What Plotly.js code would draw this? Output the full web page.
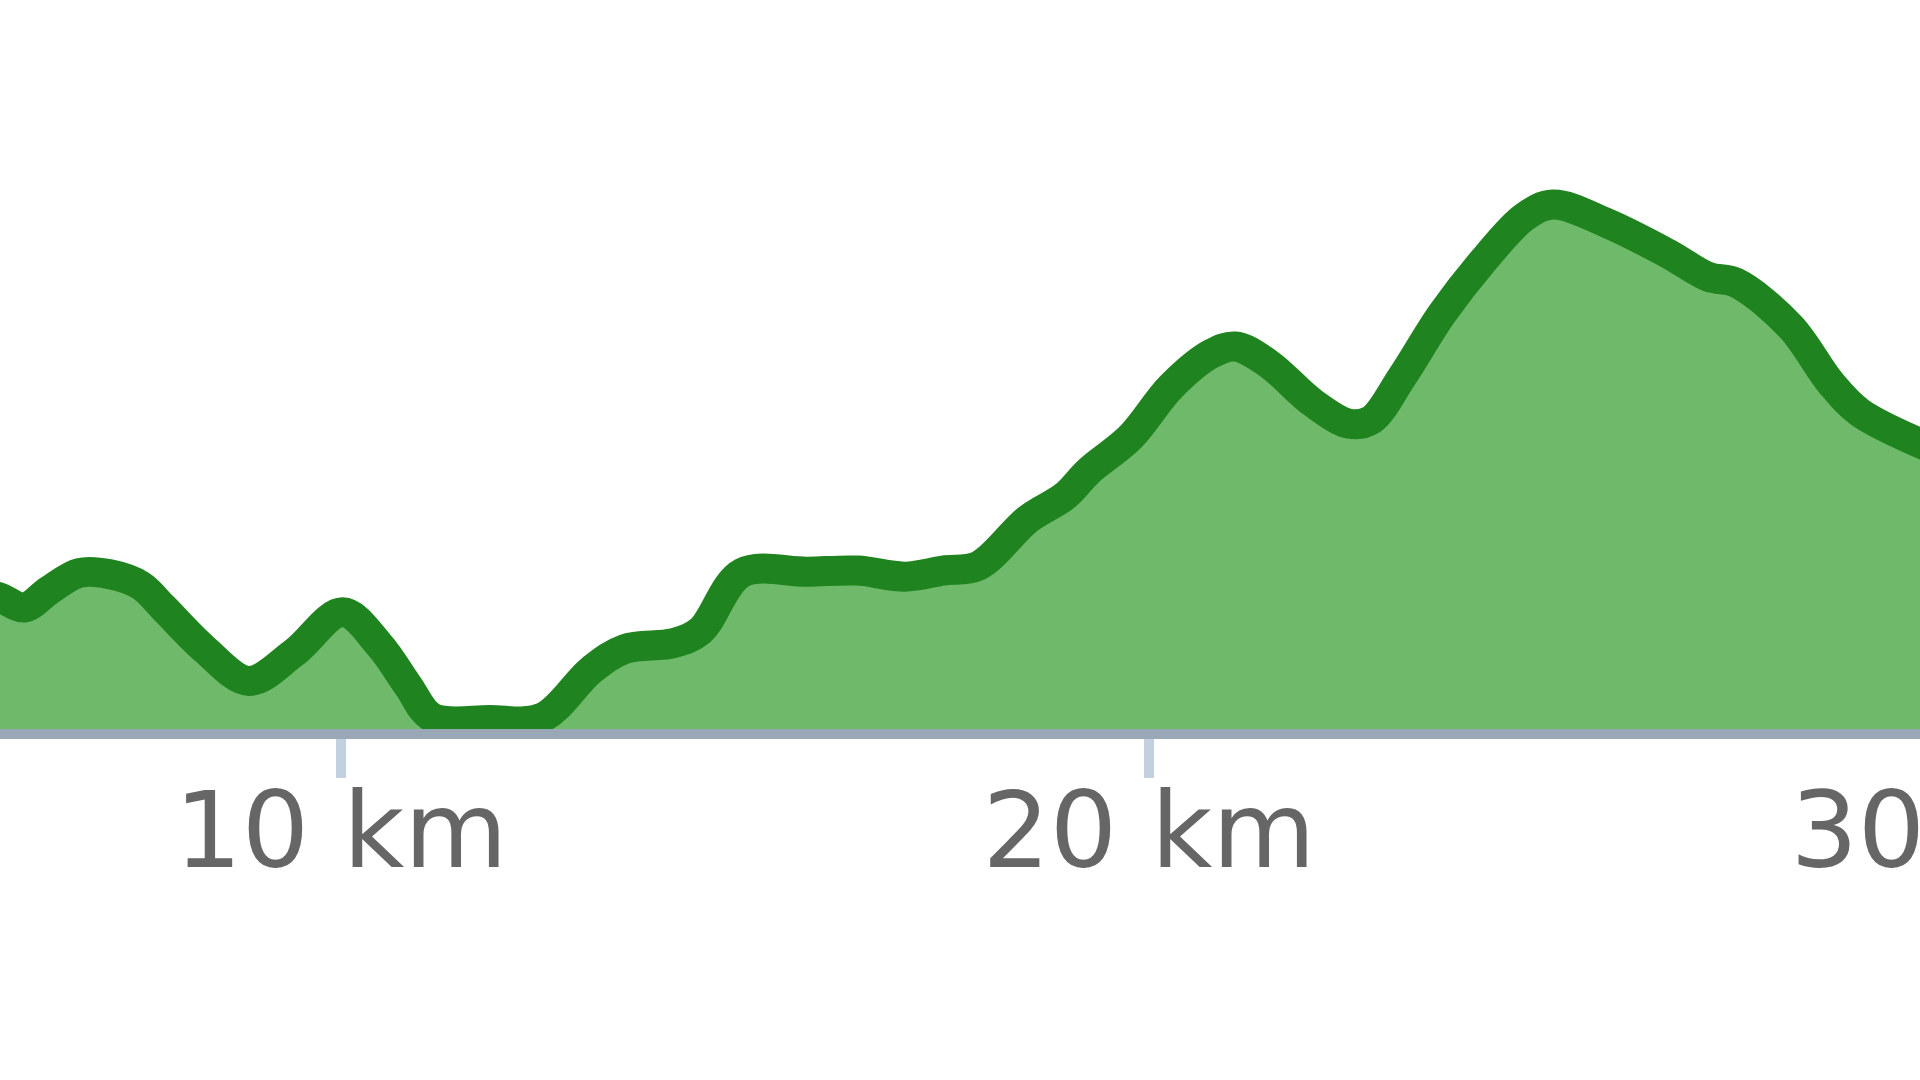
<!DOCTYPE html>
<html>
<head>
<meta charset="utf-8">
<script src="https://cdn.plot.ly/plotly-3.0.1.min.js"></script>
<style>
  html, body { margin: 0; padding: 0; width: 1920px; height: 1080px; overflow: hidden; background: #ffffff; }
  #chart { position: absolute; left: -200px; top: 0; width: 2400px; height: 1080px; }
</style>
</head>
<body>
<div id="chart"></div>
<script>
// Distance along the route (km)
const distanceKm = [5.70, 5.78, 6.08, 6.39, 6.76, 7.14, 7.52, 7.80, 8.31, 8.86, 9.42, 10.02,
  10.48, 10.83, 11.13, 11.84, 12.49, 13.10, 13.51, 14.12, 14.45, 14.96, 15.78, 16.39,
  16.98, 17.45, 17.89, 18.50, 18.96, 19.25, 19.77, 20.27, 20.77, 21.07, 21.48, 22.03,
  22.48, 22.75, 23.13, 23.63, 24.15, 24.65, 25.00, 25.66, 26.42, 26.92, 27.27, 27.94,
  28.44, 28.80, 29.54, 29.72];
// Elevation (relative, m)
const elevation = [54.6, 54.1, 50.0, 57.1, 64.2, 63.7, 59.1, 50.0, 32.9, 19.8, 31.4, 48.0,
  34.4, 17.8, 4.7, 3.7, 4.7, 24.4, 32.9, 35.4, 40.5, 64.2, 64.7, 65.2,
  62.7, 65.2, 67.2, 86.3, 95.9, 106.0, 120.1, 140.8, 154.4, 157.4, 150.3, 134.2,
  125.6, 127.2, 144.8, 171.0, 193.2, 210.8, 215.8, 208.3, 195.7, 186.1, 183.6, 165.5,
  142.3, 130.2, 117.6, 115.1];
const tickValues = [10, 20, 30];
const tickLabels = ['10 km', '20 km', '30 km'];

const trace = {
  x: distanceKm,
  y: elevation,
  type: 'scatter',
  mode: 'lines',
  fill: 'tozeroy',
  fillcolor: 'rgb(111,185,106)',
  line: { color: 'rgb(31,132,31)', width: 30, shape: 'spline', smoothing: 1.0 },
  hoverinfo: 'skip'
};

const layout = {
  width: 2400,
  height: 1080,
  margin: { l: 0, r: 0, t: 0, b: 351, pad: 0 },
  paper_bgcolor: '#ffffff',
  plot_bgcolor: '#ffffff',
  showlegend: false,
  xaxis: {
    range: [3.3045, 33.0074],
    tickmode: 'array',
    tickvals: tickValues,
    ticktext: tickLabels,
    showgrid: false,
    zeroline: false,
    showline: true,
    linecolor: 'rgb(154,167,183)',
    linewidth: 10,
    ticks: 'outside',
    ticklen: 39,
    tickwidth: 10,
    tickcolor: 'rgb(194,208,224)',
    ticklabelstandoff: -38,
    tickfont: { family: 'DejaVu Sans', size: 106, color: '#666666' },
    fixedrange: true
  },
  yaxis: {
    range: [0, 300],
    visible: false,
    showgrid: false,
    zeroline: false,
    fixedrange: true
  }
};

Plotly.newPlot('chart', [trace], layout, { displayModeBar: false, staticPlot: true });
</script>
</body>
</html>
